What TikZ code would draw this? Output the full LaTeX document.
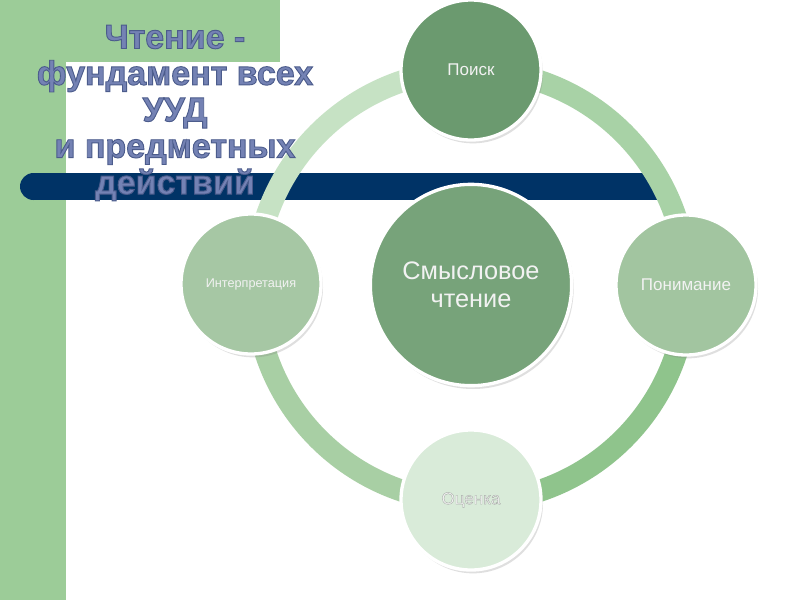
\documentclass[tikz,border=0pt]{standalone}
\usepackage{fontspec}
\setmainfont{Liberation Sans}
\usetikzlibrary{shadows}
\definecolor{stripe}{HTML}{9CCC98}
\definecolor{barblue}{HTML}{003366}
\definecolor{titlecol}{HTML}{7482B4}
\definecolor{cPoisk}{HTML}{6B9A6F}
\definecolor{cPonim}{HTML}{A2C5A0}
\definecolor{cOcen}{HTML}{D9EBD9}
\definecolor{cInter}{HTML}{A6C7A4}
\definecolor{cCenter}{HTML}{77A37A}
\definecolor{ringA}{HTML}{A8CFA4}
\definecolor{ringB}{HTML}{8FC48C}
\definecolor{ringC}{HTML}{A8D2A6}
\definecolor{ringD}{HTML}{C6E2C4}
\newcommand{\outl}{\special{pdf:literal direct 0.30 0.36 0.55 RG 0.7 w 2 Tr}}
\newcommand{\soft}{\special{pdf:literal direct 0.66 0.68 0.66 RG 0.3 w 2 Tr}}
\newcommand{\unoutl}{\special{pdf:literal direct 0 Tr}}
\begin{document}
\begin{tikzpicture}[x=0.75pt,y=-0.75pt,
  bubble/.style={circle,draw=white,line width=2.5pt,minimum size=105pt,inner sep=0pt,
     drop shadow={opacity=0.25,shadow xshift=1.5pt,shadow yshift=-2.5pt}},
  bigbubble/.style={bubble,minimum size=151pt},
  ring/.style={line width=16.5pt},
  ttl/.style={font=\bfseries\fontsize{25.5pt}{27.3pt}\selectfont,align=center,inner sep=0pt},
  lbl/.style={text=white!95!black,align=center},
]
\useasboundingbox (0,0) rectangle (800,600);
\fill[white] (0,0) rectangle (800,600);
% green background
\fill[stripe] (0,0) rectangle (66,600);
\fill[stripe] (0,0) rectangle (280,62);
% dark bar
\fill[barblue] (33.5,186.5) circle[radius=13.5];
\fill[barblue] (33.5,173) rectangle (665,200);
% ring
\coordinate (c) at (471,286);
\draw[ring,ringA] (c) ++(180:216) arc[start angle=180,end angle=90,radius=216];
\draw[ring,ringB] (c) ++(90:216) arc[start angle=90,end angle=0,radius=216];
\draw[ring,ringC] (c) ++(0:216) arc[start angle=0,end angle=-90,radius=216];
\draw[ring,ringD] (c) ++(-90:216) arc[start angle=-90,end angle=-180,radius=216];
% bubbles
\node[bubble,fill=cPoisk] (poisk) at (471,70) {};
\node[bubble,fill=cPonim] (ponim) at (686,285) {};
\node[bubble,fill=cOcen] (ocen) at (471,500) {};
\node[bubble,fill=cInter] (inter) at (251,284) {};
\node[bigbubble,fill=cCenter] (center) at (471,285) {};
% labels
\node[lbl,font=\fontsize{12.75pt}{15pt}\selectfont] at (poisk.center) {Поиск};
\node[lbl,font=\fontsize{12.75pt}{15pt}\selectfont] at (ponim.center) {Понимание};
\node[lbl,font=\fontsize{12.75pt}{15pt}\selectfont] at (ocen.center) {\soft Оценка\unoutl};
\node[lbl,font=\fontsize{9.5pt}{12pt}\selectfont] at (inter.center) {Интерпретация};
\node[lbl,font=\fontsize{19pt}{21pt}\selectfont] (centertxt) at (center.center) {Смысловое\\чтение};
% title
\node[ttl,text=titlecol] (title) at (175,113) {\outl Чтение -\\\outl фундамент всех\\\outl УУД\\\outl и предметных\\\outl действий\unoutl};
\end{tikzpicture}
\end{document}
